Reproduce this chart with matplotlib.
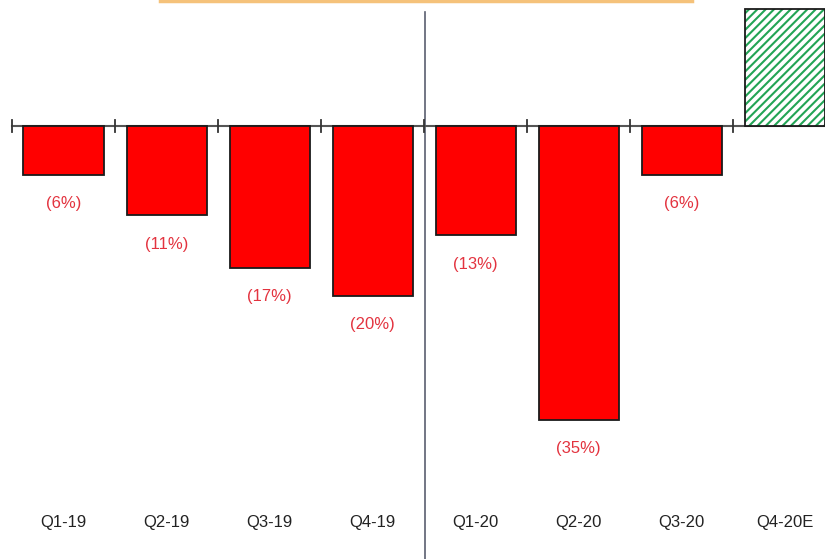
import matplotlib
matplotlib.use("Agg")
import matplotlib.pyplot as plt

categories = ["Q1-19", "Q2-19", "Q3-19", "Q4-19", "Q1-20", "Q2-20", "Q3-20", "Q4-20E"]
values = [-5.8, -10.6, -16.9, -20.2, -13.0, -35.0, -5.8, 13.9]
value_labels = ["(6%)", "(11%)", "(17%)", "(20%)", "(13%)", "(35%)", "(6%)", ""]

plt.rcParams['font.family'] = ['Liberation Sans Narrow', 'Liberation Sans', 'DejaVu Sans']
plt.rcParams['hatch.linewidth'] = 1.5

W, H = 825, 559
fig = plt.figure(figsize=(W / 100, H / 100), dpi=100)
ax = fig.add_axes([0, 0, 1, 1])
ax.axis("off")

# pixel mapping
x0_px, step_px, zero_px, ppv = 12, 103, 126, 8.4
xmin = -0.5 - x0_px / step_px
xmax = (W - x0_px) / step_px - 0.5
ymax = zero_px / ppv
ymin = (zero_px - H) / ppv
ax.set_xlim(xmin, xmax)
ax.set_ylim(ymin, ymax)

bw = 80 / step_px

for i, v in enumerate(values):
    if v < 0:
        ax.bar(i, v, width=bw, color="#ff0000", edgecolor="#1a1a1a", linewidth=1.3, zorder=3)
    else:
        ax.bar(i, v, width=bw, color="white", edgecolor="#22a455", hatch="////", linewidth=0, zorder=3)
        ax.bar(i, v, width=bw, fill=False, edgecolor="#1a1a1a", linewidth=1.3, zorder=4)

# axis line and ticks
ax.plot([-0.5, xmax], [0, 0], color="#555555", lw=1.5, zorder=2)
for b in range(len(categories)):
    ax.plot([b - 0.5, b - 0.5], [-6 / ppv, 6 / ppv], color="#333333", lw=1.3, zorder=2)

# value labels
for i, (v, lab) in enumerate(zip(values, value_labels)):
    if lab:
        ax.text(i, v - 29 / ppv, lab, ha="center", va="center", color="#e3333f", fontsize=12)

# category labels
for i, c in enumerate(categories):
    ax.text(i, (zero_px - 523) / ppv, c, ha="center", va="center", color="#222222", fontsize=12)

# vertical separator
ax.plot([3.51, 3.51], [(zero_px - 12) / ppv, ymin], color="#5a5f70", lw=1.2, zorder=1)

# orange line at top
ax.plot([(160 - x0_px) / step_px - 0.5, (692 - x0_px) / step_px - 0.5], [ymax - 0.08, ymax - 0.08],
        color="#f5c27a", lw=2.5, zorder=1)

fig.savefig("out.png", dpi=100)
